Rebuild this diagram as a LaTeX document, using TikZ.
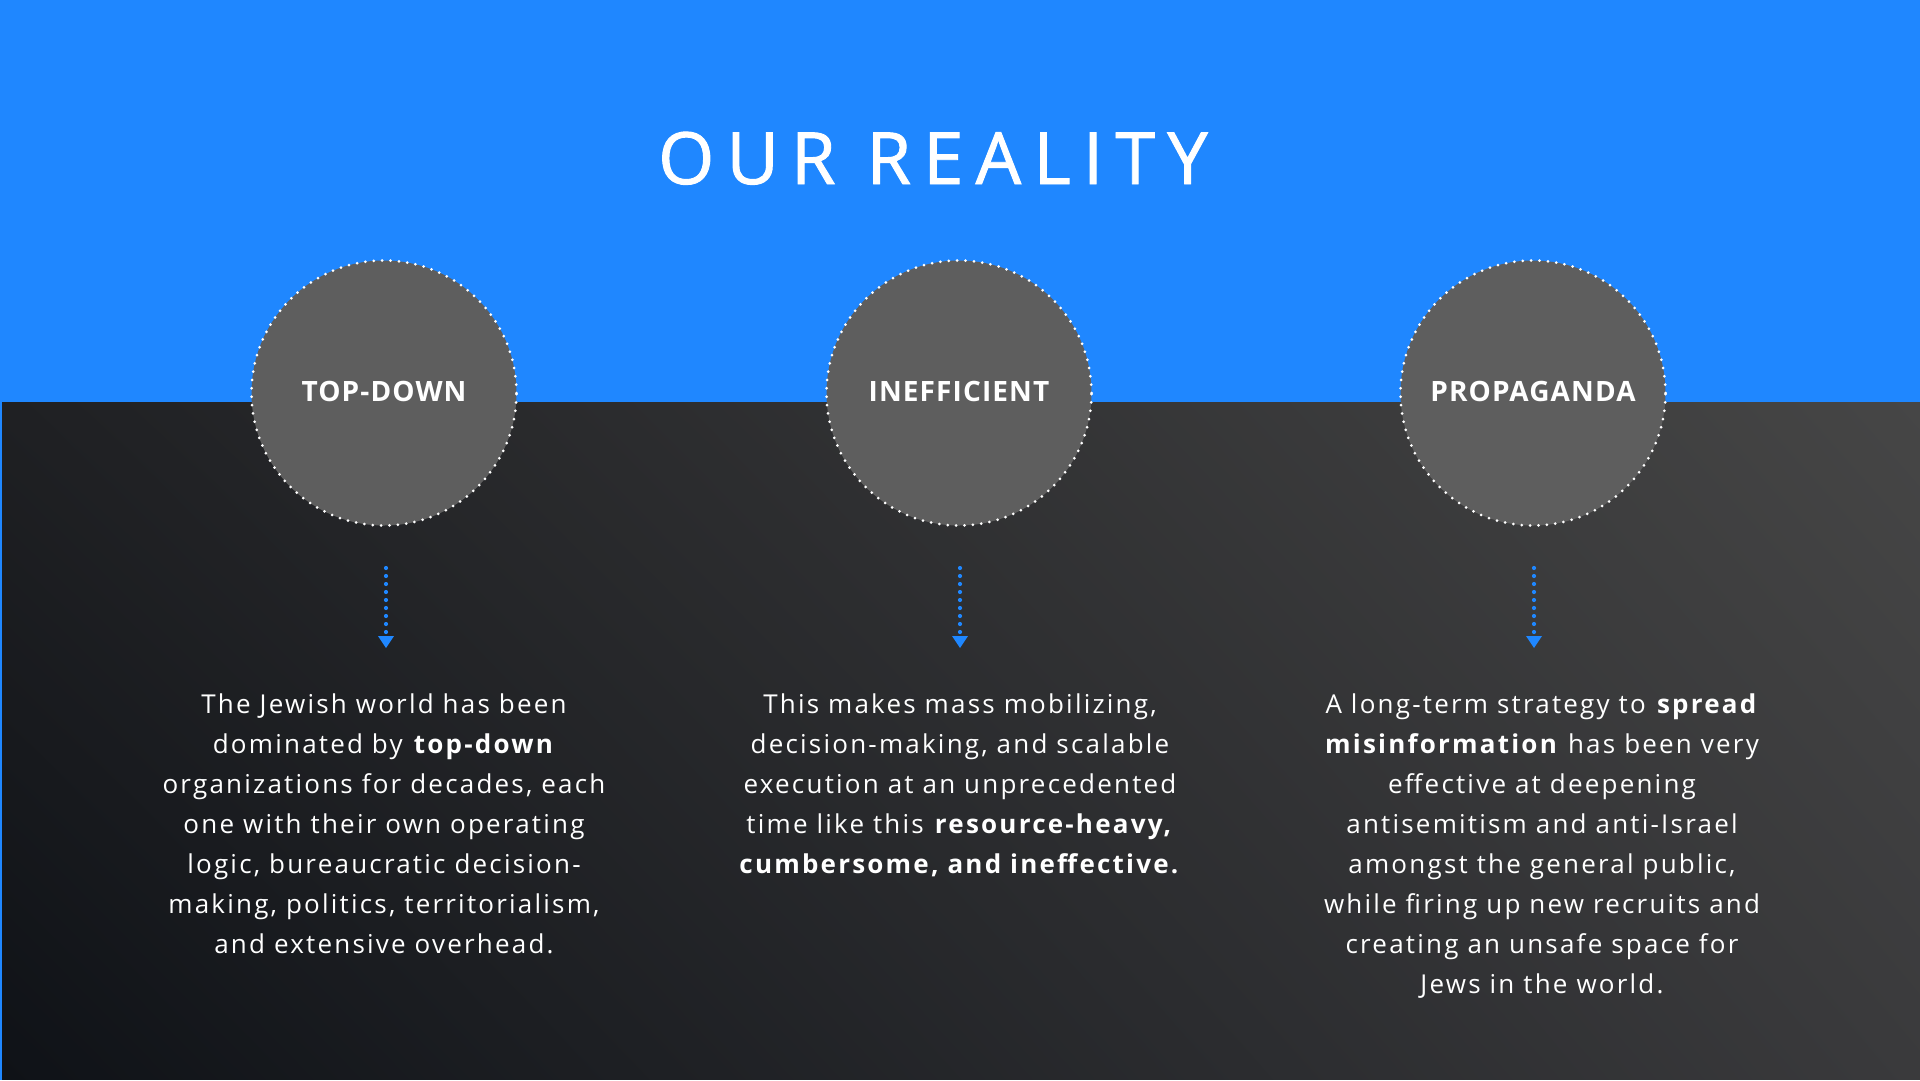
\documentclass[tikz,border=0pt]{standalone}
\usepackage{fontspec}
\usetikzlibrary{shadings}
\setmainfont{Open Sans}
\newfontfamily\titlefont[LetterSpace=17,FakeBold=1.3]{Open Sans}
\newfontfamily\bodyfont[LetterSpace=8.5]{Open Sans}
\newfontfamily\labelfont[LetterSpace=4]{Open Sans}
\definecolor{topblue}{HTML}{1F87FF}
\definecolor{circfill}{HTML}{5E5E5E}
\definecolor{arrowblue}{HTML}{1F87FF}
\definecolor{ulc}{RGB}{31,32,35}
\definecolor{urc}{RGB}{70,70,70}
\definecolor{llc}{RGB}{15,18,23}
\definecolor{lrc}{RGB}{58,58,60}
\tikzset{
  circ/.style={circle, fill=circfill, draw=white, line width=3pt, line cap=round,
    dash pattern=on 0pt off 8.4pt, minimum size=265pt, inner sep=0pt,
    text=white, font=\labelfont\bfseries\fontsize{28}{34}\selectfont},
  dotline/.style={draw=arrowblue, line width=4.2pt, line cap=round, dash pattern=on 0pt off 8pt},
  body/.style={text=white, align=center, inner sep=0pt, anchor=north,
    font=\bodyfont\fontsize{26}{40}\selectfont},
  titletext/.style={text=white, font=\titlefont\fontsize{72}{80}\selectfont, anchor=base, inner sep=0pt}
}
\newcommand{\lbl}[1]{\raisebox{4pt}{#1}}
\begin{document}
\begin{tikzpicture}[x=1pt,y=-1pt]
\useasboundingbox (0,0) rectangle (1920,1080);
\fill[topblue] (0,0) rectangle (1920,1080);
\shade[upper left=ulc, upper right=urc, lower left=llc, lower right=lrc]
  (2,402) rectangle (1920,1079);
\node[titletext] (title) at (933,184) {OUR REALITY};

\node[circ] (c1) at (384,393) {\lbl{TOP-DOWN}};
\node[circ] (c2) at (959,393) {\lbl{INEFFICIENT}};
\node[circ] (c3) at (1533,393) {\lbl{PROPAGANDA}};

\foreach \n/\x in {1/386,2/960,3/1534}{
  \coordinate (s\n) at (\x,568);
  \coordinate (e\n) at (\x,632);
  \coordinate (t\n) at (\x,648);
  \draw[dotline] (s\n) -- (e\n);
  \fill[arrowblue] (t\n) -- ++(-8,-12) -- ++(16,0) -- cycle;
}

\node[body] (b1) at (384,694) {The Jewish world has been\\dominated by \textbf{top-down}\\organizations for decades, each\\one with their own operating\\logic, bureaucratic decision-\\making, politics, territorialism,\\and extensive overhead.};
\node[body] (b2) at (960,694) {This makes mass mobilizing,\\decision-making, and scalable\\execution at an unprecedented\\time like this \textbf{resource-heavy,}\\\textbf{cumbersome, and ineffective.}};
\node[body] (b3) at (1542,694) {A long-term strategy to \textbf{spread}\\\textbf{misinformation} has been very\\effective at deepening\\antisemitism and anti-Israel\\amongst the general public,\\while firing up new recruits and\\creating an unsafe space for\\Jews in the world.};
\end{tikzpicture}
\end{document}
